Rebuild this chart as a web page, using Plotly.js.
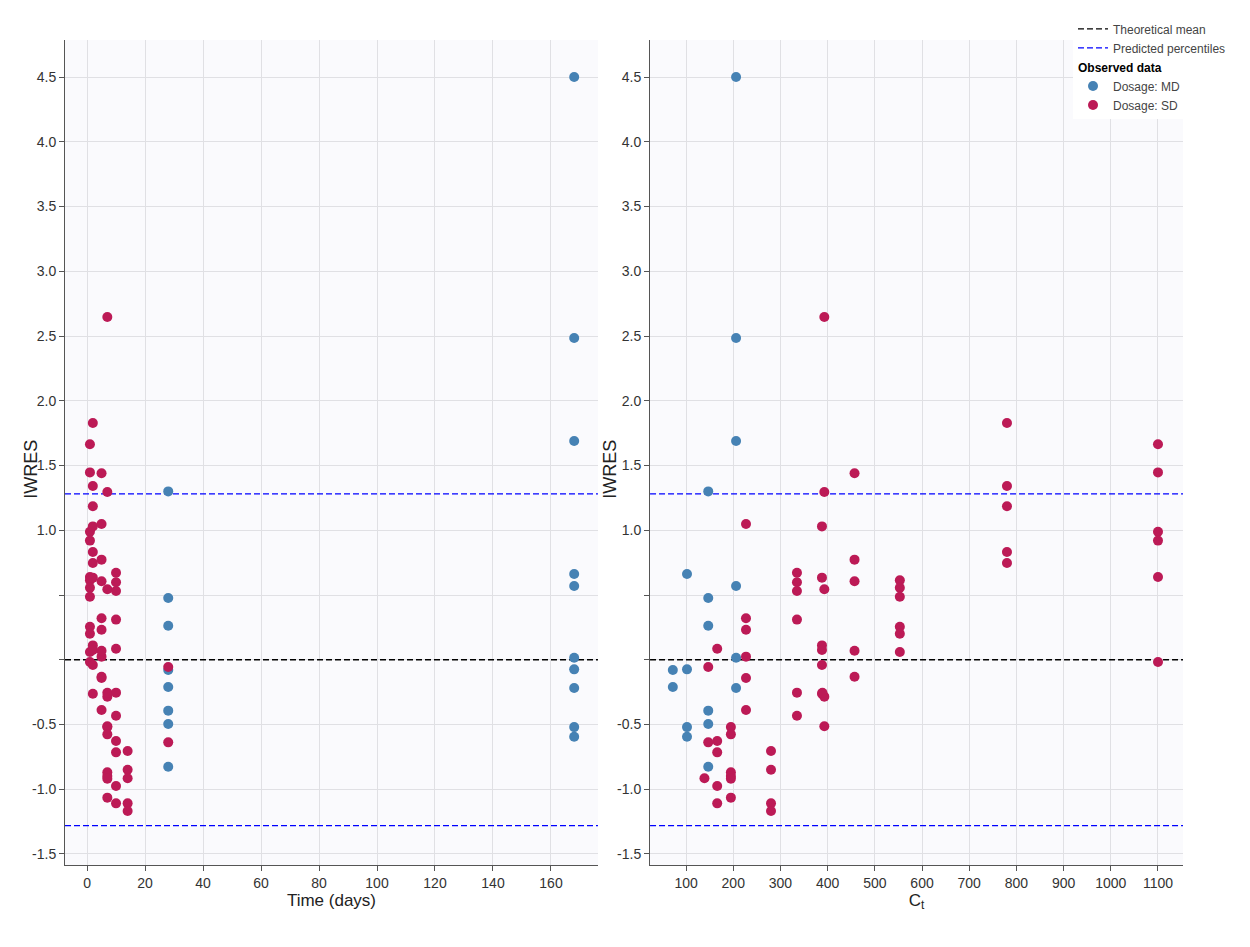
<!DOCTYPE html>
<html>
<head>
<meta charset="utf-8">
<script src="https://cdn.plot.ly/plotly-3.0.1.min.js"></script>
<style>
  html, body { margin: 0; padding: 0; background: #fff; }
  #plot { width: 1250px; height: 947px; }
</style>
</head>
<body>
<div id="plot"></div>
<script>
// observed data, one entry per observation
var mdTime = [28, 28, 28, 28, 28, 28, 28, 28,
              168, 168, 168, 168, 168, 168, 168, 168, 168, 168];
var mdConc = [147, 147, 147, 147, 147, 147, 72, 72,
              206, 206, 206, 206, 206, 206, 102, 102, 102, 102];
var mdIwres = [1.30, 0.477, 0.263, -0.393, -0.496, -0.826, -0.079, -0.21,
               4.50, 2.485, 1.689, 0.57, 0.016, -0.218, 0.662, -0.074, -0.52, -0.594];

var sdTime = [1, 1, 1, 1, 1, 1,
              1, 1, 1, 1, 1, 1,
              2, 2, 2, 2, 2,
              2, 2, 2, 2, 2, 2,
              5, 5, 5, 5, 5, 5,
              5, 5, 5, 5, 5,
              7, 7, 7, 7, 7, 7,
              7, 7, 7, 7, 7, 7,
              10, 10, 10, 10, 10, 10,
              10, 10, 10, 10, 10,
              14, 14, 14, 14, 14,
              28, 28];
var sdConc = [1100, 1100, 1100, 1100, 1100, 1100,
              553, 553, 553, 553, 553, 553,
              780, 780, 780, 780, 780,
              388, 388, 388, 388, 388, 388,
              227, 227, 227, 227, 227, 227,
              457, 457, 457, 457, 457,
              393, 393, 393, 393, 393, 389,
              195, 195, 195, 195, 195, 195,
              335, 335, 335, 335, 335, 335,
              166, 166, 166, 166, 166,
              280, 280, 280, 280, 139,
              147, 147];
var sdIwres = [1.664, 1.447, 0.989, 0.92, 0.639, -0.017,
               0.613, 0.556, 0.487, 0.255, 0.201, 0.06,
               1.828, 1.342, 1.185, 0.832, 0.747,
               1.03, 0.634, 0.111, 0.075, -0.041, -0.262,
               1.048, 0.32, 0.232, 0.024, -0.141, -0.388,
               1.44, 0.773, 0.606, 0.07, -0.131,
               2.647, 1.295, 0.544, -0.285, -0.514, -0.255,
               -0.52, -0.576, -0.869, -0.898, -0.918, -1.065,
               0.672, 0.598, 0.531, 0.31, -0.254, -0.432,
               0.085, -0.627, -0.715, -0.975, -1.109,
               -0.705, -0.849, -1.109, -1.168, -0.915,
               -0.056, -0.638];

// reference lines
var theoMean = 0;
var percentiles = [-1.2816, 1.2816];

// axes
var timeRange = [-7.6, 176.2];
var concRange = [23.7, 1153];
var iwresRange = [-1.585, 4.786];
var yTickVals = [-1.5, -1, -0.5, 0, 0.5, 1, 1.5, 2, 2.5, 3, 3.5, 4, 4.5];
var yTickText = ['-1.5', '-1.0', '-0.5', '', '', '1.0', '1.5', '2.0', '2.5', '3.0', '3.5', '4.0', '4.5'];

var blue = '#4682B4';
var red = '#BC1A56';

function refLines(xr, xa, ya, show) {
  return [
    {
      x: [xr[0], xr[1]], y: [theoMean, theoMean],
      xaxis: xa, yaxis: ya, mode: 'lines', type: 'scatter',
      line: {color: '#000', dash: '6px,3px', width: 1.3},
      name: 'Theoretical mean', legendgroup: 'ref', showlegend: show, hoverinfo: 'skip'
    },
    {
      x: [xr[0], xr[1], null, xr[0], xr[1]],
      y: [percentiles[1], percentiles[1], null, percentiles[0], percentiles[0]],
      xaxis: xa, yaxis: ya, mode: 'lines', type: 'scatter',
      line: {color: '#0000FF', dash: '6px,3px', width: 1.3},
      name: 'Predicted percentiles', legendgroup: 'ref', showlegend: show, hoverinfo: 'skip'
    }
  ];
}

function obs(x, y, xa, ya, color, name, show) {
  return {
    x: x, y: y, xaxis: xa, yaxis: ya, mode: 'markers', type: 'scatter',
    marker: {color: color, size: 10},
    name: name, legendgroup: 'obs', showlegend: show,
    legendgrouptitle: {text: '<b>Observed data</b>', font: {size: 12, color: '#000'}}
  };
}

var data = [].concat(
  refLines(timeRange, 'x', 'y', true),
  refLines(concRange, 'x2', 'y2', false),
  [
    obs(mdTime, mdIwres, 'x', 'y', blue, 'Dosage: MD', true),
    obs(sdTime, sdIwres, 'x', 'y', red, 'Dosage: SD', true),
    obs(mdConc, mdIwres, 'x2', 'y2', blue, 'Dosage: MD', false),
    obs(sdConc, sdIwres, 'x2', 'y2', red, 'Dosage: SD', false)
  ]
);

var axisStyle = {
  showline: true, linecolor: '#555', linewidth: 1,
  ticks: 'outside', ticklen: 5, tickcolor: '#555',
  showgrid: true, gridcolor: '#E0E0E4', gridwidth: 1,
  zeroline: false,
  tickfont: {size: 14, color: '#333'}
};

function ax(extra) {
  return Object.assign({}, axisStyle, extra);
}

var titleFont = {size: 17, color: '#222'};

var layout = {
  width: 1250, height: 947,
  margin: {l: 65, r: 67, t: 40, b: 82},
  paper_bgcolor: '#fff',
  plot_bgcolor: '#FAFAFD',
  font: {family: '"Liberation Sans", Arial, sans-serif', color: '#333'},
  xaxis: ax({domain: [0, 0.4767], range: timeRange, anchor: 'y', dtick: 20, tick0: 0,
    title: {text: 'Time (days)', font: titleFont, standoff: 0}}),
  yaxis: ax({domain: [0, 1], range: iwresRange, anchor: 'x',
    tickmode: 'array', tickvals: yTickVals, ticktext: yTickText}),
  xaxis2: ax({domain: [0.5233, 1], range: concRange, anchor: 'y2', dtick: 100, tick0: 0,
    title: {text: 'C<sub>t</sub>', font: titleFont, standoff: 0}}),
  yaxis2: ax({domain: [0, 1], range: iwresRange, anchor: 'x2',
    tickmode: 'array', tickvals: yTickVals, ticktext: yTickText}),
  // y titles sit close to the tick labels, so they are placed as annotations
  annotations: [
    {text: 'IWRES', xref: 'paper', yref: 'paper', x: -0.0304, y: 0.479,
     xanchor: 'center', yanchor: 'middle', textangle: -90, showarrow: false,
     font: {size: 18, color: '#222'}},
    {text: 'IWRES', xref: 'paper', yref: 'paper', x: 0.4875, y: 0.479,
     xanchor: 'center', yanchor: 'middle', textangle: -90, showarrow: false,
     font: {size: 18, color: '#222'}}
  ],
  showlegend: true,
  legend: {
    x: 0.9016, xanchor: 'left', y: 1.031, yanchor: 'top',
    bgcolor: '#fff', borderwidth: 0,
    font: {size: 12, color: '#444'},
    traceorder: 'grouped', tracegroupgap: 0,
    itemwidth: 30
  }
};

Plotly.newPlot('plot', data, layout, {displayModeBar: false});
</script>
</body>
</html>
